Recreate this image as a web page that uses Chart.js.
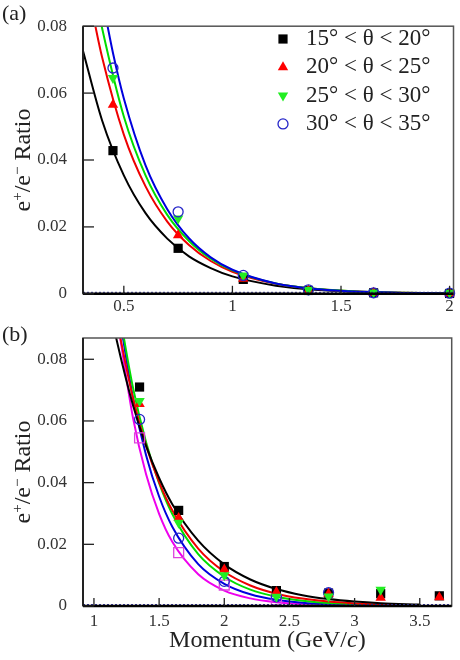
<!DOCTYPE html>
<html>
<head>
<meta charset="utf-8">
<script src="https://cdn.jsdelivr.net/npm/chart.js@4/dist/chart.umd.min.js"></script>
<style>
  body { margin: 0; background: #fff; }
  #wrap { position: relative; width: 460px; height: 660px; }
  canvas { position: absolute; left: 0; }
  #chartA { top: 0; }
  #chartB { top: 310px; }
</style>
</head>
<body>
<div id="wrap">
  <canvas id="chartA" width="460" height="320"></canvas>
  <canvas id="chartB" width="460" height="350"></canvas>
</div>
<script>
// ---- panel (a) data ----
const momentumA = [0.45, 0.75, 1.05, 1.35, 1.65, 2.0];
const ratioA15 = [0.0428, 0.0136, 0.0043, 0.0010, 0.0003, 0.0001];
const ratioA20 = [0.0565, 0.0175, 0.0045, 0.0010, 0.0003, 0.0001];
const ratioA25 = [0.0645, 0.0225, 0.0055, 0.0012, 0.0004, 0.0003];
const ratioA30 = [0.0675, 0.0245, 0.0055, 0.0012, 0.0003, 0.0002];

// fitted curves
const fitA15x = [0.31, 0.4, 0.5, 0.6, 0.7, 0.8, 0.9, 1.0, 1.2, 1.4, 1.6, 1.8, 2.0];
const fitA15 = [0.0731, 0.0518, 0.0354, 0.0241, 0.0165, 0.0112, 0.0077, 0.0052, 0.00244, 0.00113, 0.00053, 0.00025, 0.00012];
const fitA20x = [0.36, 0.4, 0.5, 0.6, 0.7, 0.8, 0.9, 1.0, 1.2, 1.4, 1.6, 1.8, 2.0];
const fitA20 = [0.0828, 0.0707, 0.0476, 0.0321, 0.0216, 0.0146, 0.0098, 0.0066, 0.0030, 0.00136, 0.00062, 0.00028, 0.00013];
const fitA25x = [0.39, 0.4, 0.5, 0.6, 0.7, 0.8, 0.9, 1.0, 1.2, 1.4, 1.6, 1.8, 2.0];
const fitA25 = [0.0826, 0.0794, 0.053, 0.0354, 0.0236, 0.0158, 0.0105, 0.0070, 0.0031, 0.0014, 0.00062, 0.00028, 0.00012];
const fitA30x = [0.42, 0.45, 0.5, 0.6, 0.7, 0.8, 0.9, 1.0, 1.2, 1.4, 1.6, 1.8, 2.0];
const fitA30 = [0.0817, 0.072, 0.0584, 0.0384, 0.0253, 0.0166, 0.0109, 0.0072, 0.0031, 0.00135, 0.00058, 0.00025, 0.00011];

// ---- panel (b) data ----
const momentumB = [1.35, 1.65, 2.0, 2.4, 2.8, 3.2, 3.65];
const ratioB15 = [0.071, 0.031, 0.0128, 0.0050, 0.0042, 0.0040, 0.0033];
const ratioB20 = [0.0655, 0.0285, 0.0118, 0.0045, 0.0040, 0.0027, 0.0028];
const ratioB25 = [0.0665, 0.0270, 0.0100, 0.0030, 0.0031, 0.0053, null];
const ratioB30 = [0.0605, 0.0220, 0.0080, 0.0030, 0.0043, null, null];
const ratioB35 = [0.0545, 0.0173, 0.0068, 0.0020, null, null, null];

const fitB15x = [1.15, 1.17, 1.3, 1.4, 1.5, 1.6, 1.8, 2.0, 2.2, 2.4, 2.6, 2.8, 3.0, 3.2, 3.5];
const fitB15 = [0.091, 0.087, 0.065, 0.0519, 0.0415, 0.0331, 0.0212, 0.0135, 0.0086, 0.0055, 0.0035, 0.00224, 0.00143, 0.00091, 0.00047];
const fitBx = [1.3, 1.4, 1.5, 1.6, 1.8, 2.0, 2.2, 2.4, 2.6, 2.8, 3.0, 3.2, 3.5];
const fitB20 = [0.0916, 0.0673, 0.052, 0.0402, 0.0311, 0.0186, 0.0111, 0.00666, 0.0040, 0.0024, 0.00142, 0.00085, 0.00051, 0.00023];
const fitB25 = [0.0916, 0.0707, 0.0531, 0.0398, 0.0299, 0.0168, 0.0095, 0.0053, 0.0030, 0.0017, 0.00095, 0.00054, 0.0003, 0.00013];
const fitB30 = [0.0928, 0.0674, 0.0489, 0.0355, 0.0258, 0.0136, 0.0072, 0.0038, 0.0020, 0.00105, 0.00055, 0.0003, 0.00016, 0.00006];
const fitB35 = [0.090, 0.0609, 0.0427, 0.0299, 0.0209, 0.0103, 0.0050, 0.00247, 0.00122, 0.0006, 0.0003, 0.00014, 0.00007, 0.00002];
const fitBstart = [1.18, 1.21, 1.20, 1.19];

const legendLabels = ['15° < θ < 20°', '20° < θ < 25°', '25° < θ < 30°', '30° < θ < 35°', '35° < θ < 40°'];
const xTicksA = [0.5, 1, 1.5, 2];
const xTicksB = [1, 1.5, 2, 2.5, 3, 3.5];
const yTicks = [0, 0.02, 0.04, 0.06, 0.08];

const SERIF = '"Liberation Serif", "Times New Roman", "DejaVu Serif", serif';

const styles = [
  { color: '#000000', line: '#000000', fill: '#000000', pointStyle: 'rect', radius: 6.5, rotation: 0, bw: 0 },
  { color: '#ff0000', line: '#ee0000', fill: '#ff0000', pointStyle: 'triangle', radius: 6, rotation: 0, bw: 0 },
  { color: '#22ee22', line: '#00dd00', fill: '#22ee22', pointStyle: 'triangle', radius: 6, rotation: 180, bw: 0 },
  { color: '#2424c8', line: '#0000dd', fill: 'rgba(0,0,0,0)', pointStyle: 'circle', radius: 5, rotation: 0, bw: 1.3 },
  { color: '#dd44dd', line: '#ee00ee', fill: 'rgba(0,0,0,0)', pointStyle: 'rect', radius: 7, rotation: 0, bw: 1.3 }
];

function pts(xs, ys) {
  return xs.map((x, i) => ({ x: x, y: ys[i] })).filter(p => p.y !== null);
}

function markerSet(xs, ys, s, label) {
  return {
    label: label, data: pts(xs, ys), showLine: false, clip: false,
    pointStyle: s.pointStyle, pointRadius: s.radius, pointRotation: s.rotation,
    pointBackgroundColor: s.fill, pointBorderColor: s.color, pointBorderWidth: s.bw
  };
}

function fitSet(xs, ys, s) {
  return {
    data: pts(xs, ys), showLine: true, pointRadius: 0, borderColor: s.line,
    borderWidth: 2, cubicInterpolationMode: 'monotone', fill: false
  };
}

function decorPlugin(panelLabel, legendTop, nLegend, xTicks, xTitle) {
  return {
    id: 'decor',
    afterDraw(chart) {
      const ctx = chart.ctx;
      const a = chart.chartArea;
      const xs = chart.scales.x, ys = chart.scales.y;
      ctx.save();
      // dotted zero line
      ctx.strokeStyle = '#3a3a9a';
      ctx.lineWidth = 1;
      ctx.setLineDash([2, 2]);
      const y0 = ys.getPixelForValue(0) - 1.5;
      ctx.beginPath(); ctx.moveTo(a.left, y0); ctx.lineTo(a.right, y0); ctx.stroke();
      ctx.setLineDash([]);
      // frame
      ctx.strokeStyle = '#555';
      ctx.lineWidth = 1.5;
      ctx.strokeRect(a.left, a.top, a.right - a.left, a.bottom - a.top);
      ctx.strokeStyle = '#222';
      ctx.lineWidth = 2;
      ctx.beginPath(); ctx.moveTo(a.left, a.top); ctx.lineTo(a.left, a.bottom); ctx.stroke();
      ctx.strokeStyle = '#000';
      ctx.lineWidth = 2.5;
      ctx.beginPath(); ctx.moveTo(a.left, a.bottom); ctx.lineTo(a.right, a.bottom); ctx.stroke();
      // inward ticks
      ctx.strokeStyle = '#222';
      ctx.lineWidth = 1.3;
      yTicks.forEach(v => {
        const py = ys.getPixelForValue(v);
        ctx.beginPath(); ctx.moveTo(a.left, py); ctx.lineTo(a.left + 11, py); ctx.stroke();
      });
      xTicks.forEach(v => {
        const px = xs.getPixelForValue(v);
        ctx.beginPath(); ctx.moveTo(px, a.bottom); ctx.lineTo(px, a.bottom - 8); ctx.stroke();
      });
      // legend
      ctx.font = '23px ' + SERIF;
      ctx.textBaseline = 'middle';
      ctx.textAlign = 'left';
      for (let i = 0; i < nLegend; i++) {
        const s = styles[i];
        const ly = legendTop + i * 28.3;
        ctx.fillStyle = s.fill;
        ctx.strokeStyle = s.color;
        ctx.lineWidth = s.bw;
        Chart.helpers.drawPoint(ctx, { pointStyle: s.pointStyle, radius: s.radius, rotation: s.rotation, borderWidth: s.bw }, 283, ly);
        ctx.fillStyle = '#222';
        ctx.fillText(legendLabels[i], 306, ly);
      }
      // panel label
      ctx.fillStyle = '#222';
      ctx.font = '22px ' + SERIF;
      ctx.fillText(panelLabel, 2, chart.canvas.id === 'chartA' ? 14 : 25);
      // y title with superscripts
      ctx.save();
      const cy = (a.top + a.bottom) / 2;
      ctx.translate(22, cy);
      ctx.rotate(-Math.PI / 2);
      const big = '24px ' + SERIF, small = '15px ' + SERIF;
      const parts = [['e', big, 0], ['+', small, -8], ['/e', big, 0], ['\u2212', small, -8], [' Ratio', big, 0]];
      let total = 0;
      parts.forEach(p => { ctx.font = p[1]; total += ctx.measureText(p[0]).width; });
      let tx = -total / 2;
      ctx.textAlign = 'left';
      ctx.textBaseline = 'alphabetic';
      parts.forEach(p => {
        ctx.font = p[1];
        ctx.fillText(p[0], tx, 8 + p[2]);
        tx += ctx.measureText(p[0]).width;
      });
      ctx.restore();
      // x title
      if (xTitle) {
        const tp = [['Momentum (GeV/', '24px ' + SERIF], ['c', 'italic 24px ' + SERIF], [')', '24px ' + SERIF]];
        let w = 0;
        tp.forEach(p => { ctx.font = p[1]; w += ctx.measureText(p[0]).width; });
        let x = (a.left + a.right) / 2 - w / 2;
        ctx.textBaseline = 'middle';
        ctx.textAlign = 'left';
        tp.forEach(p => { ctx.font = p[1]; ctx.fillText(p[0], x, 331); x += ctx.measureText(p[0]).width; });
      }
      ctx.restore();
    }
  };
}

function buildChart(id, datasets, xMin, xMax, yMax, xTicks, padTop, xAxisH, labelPad, plugin) {
  return new Chart(document.getElementById(id), {
    type: 'scatter',
    data: { datasets: datasets },
    options: {
      responsive: false,
      animation: false,
      layout: { padding: { top: padTop, right: 5, left: 0, bottom: 0 } },
      plugins: { legend: { display: false }, tooltip: { enabled: false } },
      scales: {
        x: {
          type: 'linear', min: xMin, max: xMax,
          grid: { display: false, drawTicks: false }, border: { display: false },
          afterFit: s => { s.height = xAxisH; },
          afterBuildTicks: s => { s.ticks = xTicks.map(v => ({ value: v })); },
          ticks: {
            autoSkip: false, maxRotation: 0, padding: labelPad,
            color: '#333', font: { family: SERIF, size: 17 },
            callback: v => String(+v.toFixed(1))
          }
        },
        y: {
          type: 'linear', min: 0, max: yMax,
          grid: { display: false, drawTicks: false }, border: { display: false },
          afterFit: s => { s.width = 83; },
          afterBuildTicks: s => { s.ticks = yTicks.map(v => ({ value: v })); },
          ticks: {
            padding: 16, color: '#333', font: { family: SERIF, size: 17 },
            callback: v => (v === 0 ? '0' : v.toFixed(2))
          }
        }
      }
    },
    plugins: [plugin]
  });
}

const dsA = [
  markerSet(momentumA, ratioA30, styles[3], legendLabels[3]),
  markerSet(momentumA, ratioA25, styles[2], legendLabels[2]),
  markerSet(momentumA, ratioA20, styles[1], legendLabels[1]),
  markerSet(momentumA, ratioA15, styles[0], legendLabels[0]),
  fitSet(fitA30x, fitA30, styles[3]),
  fitSet(fitA25x, fitA25, styles[2]),
  fitSet(fitA20x, fitA20, styles[1]),
  fitSet(fitA15x, fitA15, styles[0])
];

// first dataset is drawn on top
const dsB = [
  markerSet(momentumB, ratioB25, styles[2], legendLabels[2]),
  markerSet(momentumB, ratioB20, styles[1], legendLabels[1]),
  markerSet(momentumB, ratioB30, styles[3], legendLabels[3]),
  markerSet(momentumB, ratioB35, styles[4], legendLabels[4]),
  markerSet(momentumB, ratioB15, styles[0], legendLabels[0]),
  fitSet(fitB15x, fitB15, styles[0]),
  fitSet([fitBstart[0]].concat(fitBx), fitB20, styles[1]),
  fitSet([fitBstart[1]].concat(fitBx), fitB25, styles[2]),
  fitSet([fitBstart[2]].concat(fitBx), fitB30, styles[3]),
  fitSet([fitBstart[3]].concat(fitBx), fitB35, styles[4])
];

buildChart('chartA', dsA, 0.312, 2.018, 0.08, xTicksA, 22, 24, 3,
  decorPlugin('(a)', 39, 4, xTicksA, false));
buildChart('chartB', dsB, 0.916, 3.745, 0.0869, xTicksB, 28, 54, 5,
  decorPlugin('(b)', 364, 5, xTicksB, true));
</script>
</body>
</html>
